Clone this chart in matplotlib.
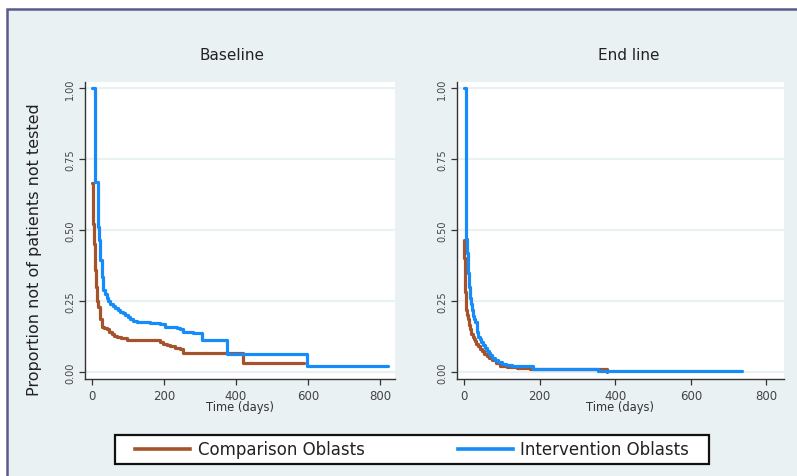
import matplotlib
matplotlib.use("Agg")
import matplotlib.pyplot as plt
from matplotlib.patches import Rectangle
from matplotlib.lines import Line2D

# ---------------- data (Kaplan-Meier style step curves) ----------------
panel_titles = ["Baseline", "End line"]
series_names = ["Comparison Oblasts", "Intervention Oblasts"]

base_comp_t = [0, 3, 5, 8, 11, 14, 17, 22, 27, 33, 41, 48, 55, 62, 69, 80, 96, 189, 198, 207,
               217, 230, 244, 254, 420, 590]
base_comp_s = [0.664, 0.52, 0.45, 0.36, 0.30, 0.25, 0.23, 0.185, 0.16, 0.155, 0.15, 0.14, 0.133,
               0.128, 0.123, 0.118, 0.112, 0.107, 0.10, 0.095, 0.09, 0.085, 0.08, 0.068, 0.03,
               0.03]

base_int_t = [0, 8, 17, 19, 21, 23, 27, 31, 36, 41, 45, 50, 57, 64, 71, 78, 85, 92, 99, 106,
              115, 124, 160, 190, 203, 220, 235, 244, 254, 280, 305, 374, 596, 823]
base_int_s = [1.0, 0.67, 0.51, 0.465, 0.43, 0.395, 0.336, 0.29, 0.275, 0.26, 0.25, 0.238, 0.232,
              0.227, 0.22, 0.213, 0.207, 0.20, 0.192, 0.185, 0.18, 0.175, 0.173, 0.17, 0.16,
              0.158, 0.155, 0.15, 0.14, 0.138, 0.112, 0.063, 0.021, 0.021]

end_comp_t = [0, 1, 2, 3, 5, 8, 11, 13, 16, 19, 23, 26, 29, 33, 38, 42, 47, 53, 60, 66, 73, 84,
              95, 115, 139, 175, 378]
end_comp_s = [0.465, 0.40, 0.33, 0.28, 0.22, 0.20, 0.185, 0.165, 0.15, 0.135, 0.122, 0.115,
              0.108, 0.10, 0.09, 0.082, 0.073, 0.065, 0.056, 0.049, 0.042, 0.031, 0.021, 0.017,
              0.014, 0.012, 0.0]

end_int_t = [0, 5, 8, 11.5, 14, 16, 18, 20, 23, 26, 29, 33.5, 38, 42, 46, 51, 55, 60, 65, 69,
             75, 82, 90, 100, 112, 126, 183, 354, 735]
end_int_s = [1.0, 0.47, 0.42, 0.35, 0.30, 0.26, 0.24, 0.22, 0.196, 0.185, 0.175, 0.14, 0.125,
             0.115, 0.105, 0.094, 0.084, 0.073, 0.066, 0.059, 0.05, 0.042, 0.035, 0.028, 0.024,
             0.021, 0.0105, 0.002, 0.002]

x_ticks = [0, 200, 400, 600, 800]
y_ticks = [0.0, 0.25, 0.50, 0.75, 1.0]
y_tick_labels = ["0.00", "0.25", "0.50", "0.75", "1.00"]

# ---------------- style ----------------
W, H = 797, 477
BG = "#EAF1F3"
BROWN = "#A5532C"
BLUE = "#168BFA"
FRAME = "#5A5A8C"

plt.rcParams["font.family"] = ["DejaVu Sans"]

fig = plt.figure(figsize=(W / 100, H / 100), dpi=100)
fig.patch.set_facecolor("white")
fig.patches.append(Rectangle((7 / W, -0.02), 1.2, (H - 10) / H + 0.02,
                             transform=fig.transFigure, facecolor=BG,
                             edgecolor=FRAME, lw=1.8, zorder=-5))


def fx(px):
    return px / W


def fy(py):
    return 1 - py / H


axes_px = [(85, 395, -19.4, 841.7), (457, 784, -18.5, 846.6)]
top_px, bot_px = 83, 380
data = [((base_comp_t, base_comp_s), (base_int_t, base_int_s)),
        ((end_comp_t, end_comp_s), (end_int_t, end_int_s))]
title_x = [232, 629]

for i, (l, r, xmin, xmax) in enumerate(axes_px):
    ax = fig.add_axes([fx(l), fy(bot_px), (r - l) / W, (bot_px - top_px) / H])
    ax.set_facecolor("white")
    (ct, cs), (it, is_) = data[i]
    ax.step(ct, cs, where="post", color=BROWN, lw=2.3, solid_capstyle="round", zorder=3)
    ax.step(it, is_, where="post", color=BLUE, lw=2.3, solid_capstyle="round", zorder=4)
    ax.set_xlim(xmin, xmax)
    ax.set_ylim(-0.0246, 1.021)
    ax.set_xticks(x_ticks)
    ax.set_xticklabels([str(v) for v in x_ticks])
    ax.set_yticks(y_ticks)
    ax.set_yticklabels(y_tick_labels, rotation=90, va="center")
    for yv in y_ticks:
        ax.axhline(yv, color=BG, lw=1.6, zorder=1)
    for s in ["top", "right"]:
        ax.spines[s].set_visible(False)
    for s in ["left", "bottom"]:
        ax.spines[s].set_color("#333333")
        ax.spines[s].set_linewidth(1.0)
    ax.tick_params(axis="x", length=4, width=0.9, colors="#333333", labelsize=8.5, pad=3,
                   labelcolor="#444444")
    ax.tick_params(axis="y", length=4, width=0.9, colors="#333333", labelsize=7, pad=3,
                   labelcolor="#444444")
    ax.set_xlabel("Time (days)", fontsize=8.3, color="#333333", labelpad=-1)
    fig.text(fx(title_x[i]), fy(56), panel_titles[i], ha="center", va="center",
             fontsize=11, color="#222222")

fig.text(fx(35), fy(250), "Proportion not of patients not tested", rotation=90,
         ha="center", va="center", fontsize=11.5, color="#222222")

# legend box
fig.patches.append(Rectangle((fx(115), fy(465)), (709 - 115) / W, (465 - 436) / H,
                             transform=fig.transFigure, facecolor="white",
                             edgecolor="#111111", lw=1.6, zorder=5))
handles = [Line2D([], [], color=BROWN, lw=2.6), Line2D([], [], color=BLUE, lw=2.6)]
leg = fig.legend(handles, series_names, loc="center", ncol=2, mode="expand",
                 bbox_to_anchor=(fx(135), fy(465), (689 - 135) / W, (465 - 436) / H),
                 frameon=False, fontsize=12, handlelength=3.3, handletextpad=0.45,
                 borderpad=0, borderaxespad=0)
leg.set_zorder(6)
for t in leg.get_texts():
    t.set_color("#222222")

fig.savefig("out.png", dpi=100, facecolor=fig.get_facecolor())
